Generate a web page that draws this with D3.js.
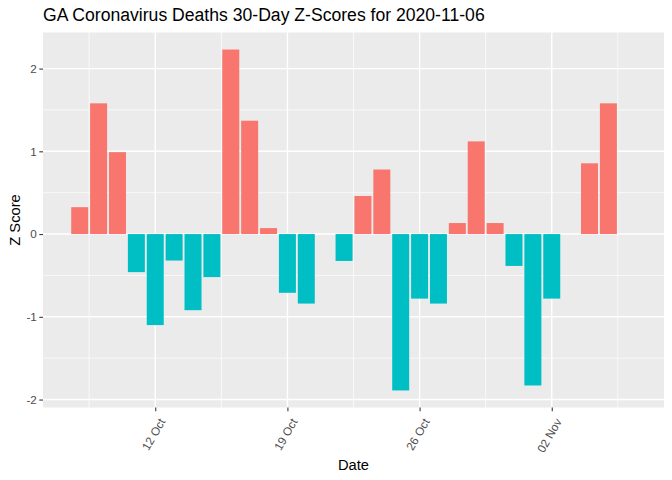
<!DOCTYPE html>
<html>
<head>
<meta charset="utf-8">
<script src="https://cdn.jsdelivr.net/npm/d3@7"></script>
<style>
  body { margin: 0; background: #fff; }
  text { font-family: "Liberation Sans", Arial, sans-serif; }
</style>
</head>
<body>
<script>

const svgWidth = 672;
const svgHeight = 480;

// panel edges in pixels
const panel = { left: 43, right: 664, top: 32.5, bottom: 407.5 };

// Data
const dates = ["2020-10-08","2020-10-09","2020-10-10","2020-10-11","2020-10-12","2020-10-13",
  "2020-10-14","2020-10-15","2020-10-16","2020-10-17","2020-10-18","2020-10-19","2020-10-20",
  "2020-10-21","2020-10-22","2020-10-23","2020-10-24","2020-10-25","2020-10-26","2020-10-27",
  "2020-10-28","2020-10-29","2020-10-30","2020-10-31","2020-11-01","2020-11-02","2020-11-03",
  "2020-11-04","2020-11-05","2020-11-06"];
const zScores = [0.325, 1.58, 0.99, -0.46, -1.10, -0.32, -0.92, -0.52, 2.23, 1.37, 0.072, -0.71, -0.84,
  0, -0.325, 0.46, 0.78, -1.89, -0.78, -0.84, 0.133, 1.12, 0.133, -0.385, -1.83, -0.78, 0,
  0.855, 1.58, 0];
const xTickDates = ["2020-10-12", "2020-10-19", "2020-10-26", "2020-11-02"];
const xTickLabels = ["12 Oct", "19 Oct", "26 Oct", "02 Nov"];
const yTicks = [-2, -1, 0, 1, 2];

const day = 24 * 3600 * 1000;
const parsed = dates.map(d => new Date(d + "T00:00:00Z"));

// create svg container
const svg = d3.select("body")
  .append("svg")
  .attr("width", svgWidth)
  .attr("height", svgHeight);

// x domain like ggplot: bar extent plus 5% on each side
const xMin = d3.min(parsed).getTime() - 0.45 * day;
const xMax = d3.max(parsed).getTime() + 0.45 * day;
const xPad = (xMax - xMin) * 0.05;
const xScale = d3.scaleUtc()
  .domain([new Date(xMin - xPad), new Date(xMax + xPad)])
  .range([panel.left, panel.right]);

const yMin = d3.min(zScores), yMax = d3.max(zScores);
const yPad = (yMax - yMin) * 0.05;
const yScale = d3.scaleLinear()
  .domain([yMin - yPad, yMax + yPad])
  .range([panel.bottom, panel.top]);

// panel background
svg.append("rect")
  .attr("x", panel.left)
  .attr("y", panel.top)
  .attr("width", panel.right - panel.left)
  .attr("height", panel.bottom - panel.top)
  .attr("fill", "#EBEBEB");

const grid = svg.append("g");

// minor grid lines (halfway between majors)
const xMajor = xTickDates.map(d => new Date(d + "T00:00:00Z"));
const xMinor = [];
xMajor.forEach(d => xMinor.push(new Date(d.getTime() - 3.5 * day)));
xMinor.push(new Date(xMajor[xMajor.length - 1].getTime() + 3.5 * day));
const yMinor = [-1.5, -0.5, 0.5, 1.5];

grid.selectAll(".ymin").data(yMinor).enter().append("line")
  .attr("x1", panel.left).attr("x2", panel.right)
  .attr("y1", d => yScale(d)).attr("y2", d => yScale(d))
  .attr("stroke", "#fff").attr("stroke-width", 0.7);

grid.selectAll(".xmin").data(xMinor).enter().append("line")
  .attr("y1", panel.top).attr("y2", panel.bottom)
  .attr("x1", d => xScale(d)).attr("x2", d => xScale(d))
  .attr("stroke", "#fff").attr("stroke-width", 0.7);

// major grid lines
grid.selectAll(".ymaj").data(yTicks).enter().append("line")
  .attr("x1", panel.left).attr("x2", panel.right)
  .attr("y1", d => yScale(d)).attr("y2", d => yScale(d))
  .attr("stroke", "#fff").attr("stroke-width", 1.4);

grid.selectAll(".xmaj").data(xMajor).enter().append("line")
  .attr("y1", panel.top).attr("y2", panel.bottom)
  .attr("x1", d => xScale(d)).attr("x2", d => xScale(d))
  .attr("stroke", "#fff").attr("stroke-width", 1.4);

// bars
const barW = xScale(new Date(xMin + 0.9 * day)) - xScale(new Date(xMin));
svg.append("g").selectAll("rect")
  .data(zScores)
  .enter()
  .append("rect")
  .attr("x", (d, i) => xScale(parsed[i]) - barW / 2)
  .attr("y", d => yScale(Math.max(d, 0)))
  .attr("width", barW)
  .attr("height", d => Math.abs(yScale(d) - yScale(0)))
  .attr("fill", d => d > 0 ? "#F8766D" : "#00BFC4");

// y axis
const yAxis = d3.axisLeft(yScale)
  .tickValues(yTicks)
  .tickSize(3.7)
  .tickPadding(2.5)
  .tickFormat(d => String(d).replace("\u2212", "-"));
const yG = svg.append("g")
  .attr("transform", `translate(${panel.left}, 0)`)
  .call(yAxis);
yG.select(".domain").remove();
yG.selectAll(".tick line").attr("stroke", "#333333").attr("stroke-width", 1.07);
yG.selectAll(".tick text")
  .attr("fill", "#4D4D4D")
  .attr("font-size", "11.7px")
  .attr("font-family", "Liberation Sans, Arial, sans-serif");

// x axis
const xAxis = d3.axisBottom(xScale)
  .tickValues(xMajor)
  .tickSize(3.7)
  .tickFormat((d, i) => xTickLabels[i]);
const xG = svg.append("g")
  .attr("transform", `translate(0, ${panel.bottom})`)
  .call(xAxis);
xG.select(".domain").remove();
xG.selectAll(".tick line").attr("stroke", "#333333").attr("stroke-width", 1.07);
xG.selectAll(".tick text")
  .attr("fill", "#4D4D4D")
  .attr("font-size", "11.7px")
  .attr("font-family", "Liberation Sans, Arial, sans-serif")
  .attr("text-anchor", "end")
  .attr("dy", null)
  .attr("y", 0)
  .attr("transform", "translate(10, 14) rotate(-60)");

// titles
svg.append("text")
  .attr("x", panel.left)
  .attr("y", 21)
  .attr("font-size", "17.6px")
  .attr("fill", "#000")
  .text("GA Coronavirus Deaths 30-Day Z-Scores for 2020-11-06");

svg.append("text")
  .attr("x", (panel.left + panel.right) / 2)
  .attr("y", 470)
  .attr("text-anchor", "middle")
  .attr("font-size", "14.7px")
  .attr("fill", "#000")
  .text("Date");

svg.append("text")
  .attr("transform", `translate(20, ${(panel.top + panel.bottom) / 2}) rotate(-90)`)
  .attr("text-anchor", "middle")
  .attr("font-size", "14.7px")
  .attr("fill", "#000")
  .text("Z Score");

</script>
</body>
</html>
